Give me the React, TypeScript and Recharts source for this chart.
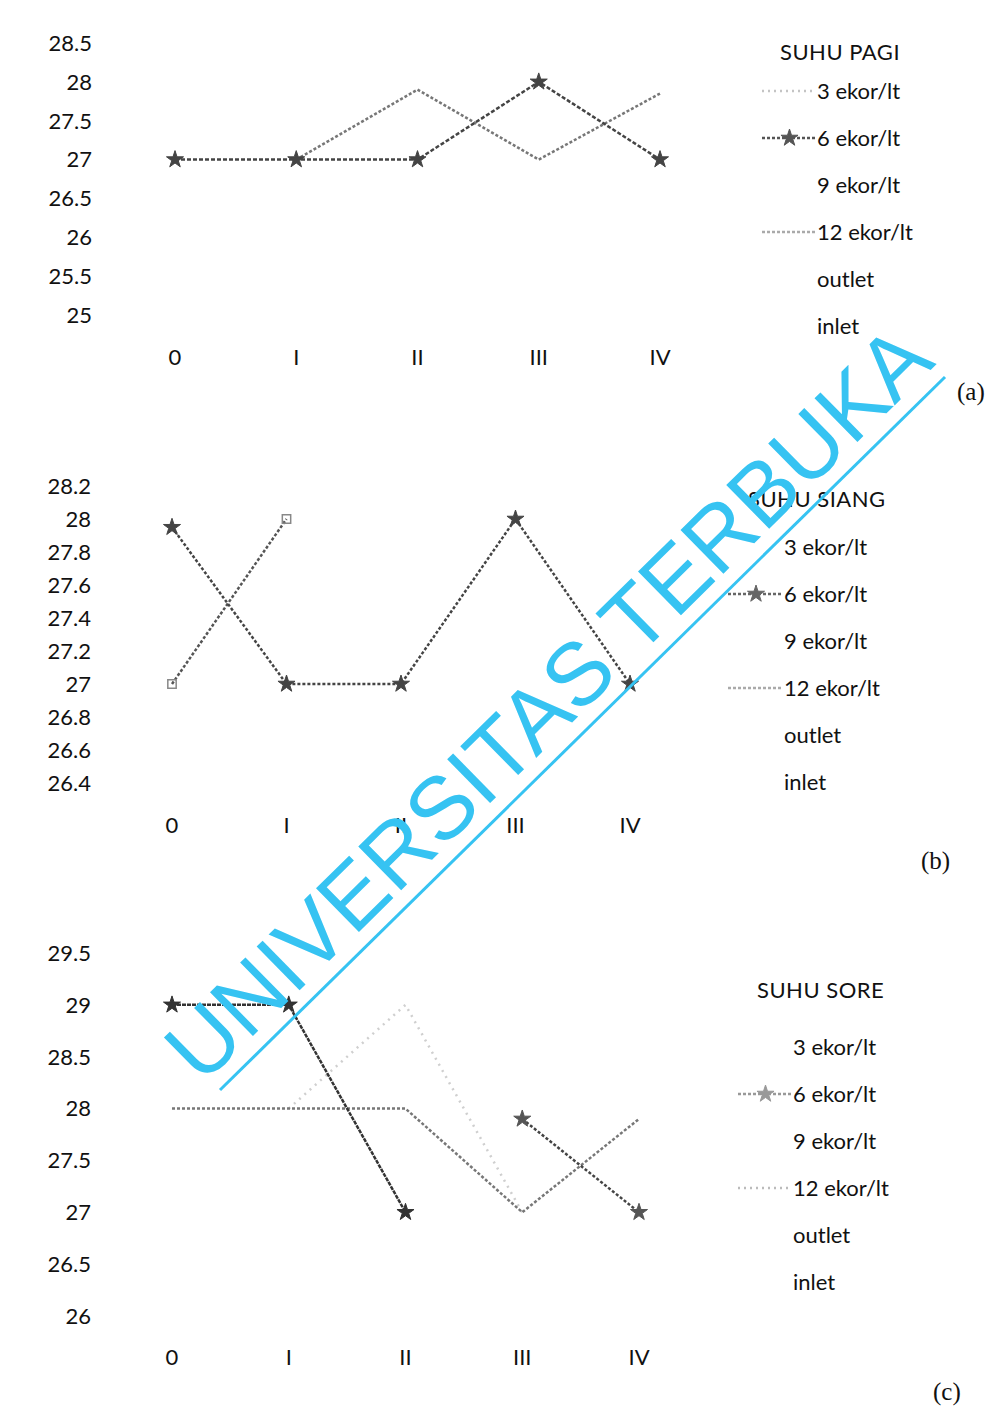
import React from "react";
import { LineChart, Line, XAxis, YAxis, Legend, Symbols } from "recharts";

const categories = ["0", "I", "II", "III", "IV"];
const seriesNames = ["3 ekor/lt", "6 ekor/lt", "9 ekor/lt", "12 ekor/lt", "outlet", "inlet"];

// SUHU PAGI
const pagi3 = [null, 27, 27.9, 27, 27.85];
const pagi6 = [27, 27, 27, 28, 27];
const pagiTicks = [25, 25.5, 26, 26.5, 27, 27.5, 28, 28.5];

// SUHU SIANG
const siang6 = [27.95, 27, 27, 28, 27];
const siang12 = [27, 28, null, null, null];
const siangTicks = [26.4, 26.6, 26.8, 27, 27.2, 27.4, 27.6, 27.8, 28, 28.2];

// SUHU SORE
const sore3 = [28, 28, 28, 27, 27.9];
const sore6 = [29, 29, 27, null, null];
const sore9 = [null, null, null, 27.9, 27];
const sore12 = [null, 28, 29, 27, null];
const soreTicks = [26, 26.5, 27, 27.5, 28, 28.5, 29, 29.5];

const FONT = "Lato, 'Open Sans', sans-serif";

const starDot = (color: string) => (props: any) => {
  const { cx, cy, index, value } = props;
  if (cx == null || cy == null || value == null) return <g key={index} />;
  return <Symbols key={index} cx={cx} cy={cy} type="star" size={90} fill={color} stroke={color} />;
};

const squareDot = (color: string) => (props: any) => {
  const { cx, cy, index, value } = props;
  if (cx == null || cy == null || value == null) return <g key={index} />;
  return <Symbols key={index} cx={cx} cy={cy} type="square" size={70} fill="none" stroke={color} strokeWidth={1.5} />;
};

type Icon = { color: string; dash: string; star?: boolean } | null;

const LegendBox = ({ title, titleX, titleY, textX, firstY, iconX, icons }: any) => (
  <div style={{ position: "relative", width: 997, height: 0, fontFamily: FONT, fontSize: 22, color: "#111" }}>
    <div style={{ position: "absolute", left: titleX, top: titleY - 14, lineHeight: "28px", whiteSpace: "nowrap", letterSpacing: 0.5 }}>
      {title}
    </div>
    {seriesNames.map((name, i) => {
      const y = firstY + i * 47;
      const icon: Icon = icons[i];
      return (
        <React.Fragment key={name}>
          {icon && (
            <svg style={{ position: "absolute", left: iconX, top: y - 10 }} width={textX - iconX} height={20}>
              <line x1={0} y1={10} x2={textX - iconX - 2} y2={10} stroke={icon.color} strokeWidth={2.5} strokeDasharray={icon.dash} />
              {icon.star && <Symbols cx={(textX - iconX) / 2} cy={10} type="star" size={90} fill={icon.color} stroke={icon.color} />}
            </svg>
          )}
          <div style={{ position: "absolute", left: textX, top: y - 14, lineHeight: "28px", whiteSpace: "nowrap" }}>{name}</div>
        </React.Fragment>
      );
    })}
  </div>
);

const tickStyle = { fontFamily: FONT, fontSize: 22, fill: "#111" };

const Panel = ({ top, height, plotLeft, plotRight, mTop, mBottom, domain, ticks, lines, legend, yMargin, xMargin }: any) => {
  const data = categories.map((label, i) => {
    const row: any = { label };
    lines.forEach((l: any) => (row[l.key] = l.values[i]));
    return row;
  });
  return (
    <div style={{ position: "absolute", left: 0, top }}>
      <LineChart
        width={997}
        height={height}
        data={data}
        margin={{ top: mTop, bottom: mBottom, left: plotLeft - 160, right: 997 - plotRight }}
      >
        <XAxis
          dataKey="label"
          axisLine={false}
          tickLine={false}
          height={50}
          tickMargin={xMargin}
          tick={tickStyle}
          interval={0}
        />
        <YAxis
          type="number"
          domain={domain}
          ticks={ticks}
          width={160}
          axisLine={false}
          tickLine={false}
          tickMargin={yMargin}
          tick={tickStyle}
          interval={0}
        />
        {lines.map((l: any) => (
          <Line
            key={l.key}
            type="linear"
            dataKey={l.key}
            stroke={l.color}
            strokeWidth={2.5}
            strokeDasharray={l.dash}
            dot={l.dot || false}
            connectNulls={false}
            isAnimationActive={false}
          />
        ))}
        <Legend
          wrapperStyle={{ position: "absolute", left: 0, top: 0, width: 997, height: 0 }}
          content={() => <LegendBox {...legend} />}
        />
      </LineChart>
    </div>
  );
};

export default function App() {
  return (
    <div style={{ position: "absolute", left: 0, top: 0, width: 997, height: 1409, background: "#fff", overflow: "hidden" }}>
      <Panel
        top={0}
        height={400}
        plotLeft={175}
        plotRight={660}
        mTop={43}
        mBottom={35}
        domain={[25, 28.5]}
        ticks={pagiTicks}
        yMargin={77}
        xMargin={28}
        lines={[
          { key: "p3", values: pagi3, color: "#777", dash: "3 2" },
          { key: "p6", values: pagi6, color: "#444", dash: "4 2", dot: starDot("#444") },
        ]}
        legend={{
          title: "SUHU PAGI",
          titleX: 780,
          titleY: 52,
          textX: 817,
          firstY: 91,
          iconX: 762,
          icons: [{ color: "#c4c4c4", dash: "2 4" }, { color: "#555", dash: "3 2", star: true }, null, { color: "#aaa", dash: "3 2" }, null, null],
        }}
      />
      <Panel
        top={440}
        height={430}
        plotLeft={172}
        plotRight={630}
        mTop={46}
        mBottom={37}
        domain={[26.4, 28.2]}
        ticks={siangTicks}
        yMargin={75}
        xMargin={28}
        lines={[
          { key: "b12", values: siang12, color: "#555", dash: "3 2", dot: squareDot("#888") },
          { key: "b6", values: siang6, color: "#444", dash: "3 2", dot: starDot("#444") },
        ]}
        legend={{
          title: "SUHU SIANG",
          titleX: 748,
          titleY: 59,
          textX: 784,
          firstY: 107,
          iconX: 728,
          icons: [null, { color: "#666", dash: "3 2", star: true }, null, { color: "#aaa", dash: "3 2" }, null, null],
        }}
      />
      <Panel
        top={900}
        height={500}
        plotLeft={172}
        plotRight={639}
        mTop={53}
        mBottom={34}
        domain={[26, 29.5]}
        ticks={soreTicks}
        yMargin={75}
        xMargin={27}
        lines={[
          { key: "c12", values: sore12, color: "#cfcfcf", dash: "2 5" },
          { key: "c3", values: sore3, color: "#777", dash: "3 2" },
          { key: "c6", values: sore6, color: "#333", dash: "4 1", dot: starDot("#333") },
          { key: "c9", values: sore9, color: "#444", dash: "3 2", dot: starDot("#555") },
        ]}
        legend={{
          title: "SUHU SORE",
          titleX: 757,
          titleY: 90,
          textX: 793,
          firstY: 147,
          iconX: 738,
          icons: [null, { color: "#999", dash: "3 2", star: true }, null, { color: "#bbb", dash: "2 4" }, null, null],
        }}
      />
      {[
        { t: "(a)", x: 957, y: 392 },
        { t: "(b)", x: 921, y: 861 },
        { t: "(c)", x: 933, y: 1392 },
      ].map((p) => (
        <div
          key={p.t}
          style={{ position: "absolute", left: p.x, top: p.y - 15, lineHeight: "30px", fontFamily: "'Liberation Serif', serif", fontSize: 25, color: "#111" }}
        >
          {p.t}
        </div>
      ))}
      <svg style={{ position: "absolute", left: 0, top: 0, pointerEvents: "none" }} width={997} height={1409}>
        <text
          x={202}
          y={1086}
          transform="rotate(-44.5 202 1086)"
          fontFamily="'Liberation Sans', Arial, sans-serif"
          fontSize={89}
          fill="#36c3f2"
        >
          UNIVERSITAS TERBUKA
        </text>
        <line x1={220} y1={1090} x2={945} y2={377} stroke="#36c3f2" strokeWidth={3} />
      </svg>
    </div>
  );
}
